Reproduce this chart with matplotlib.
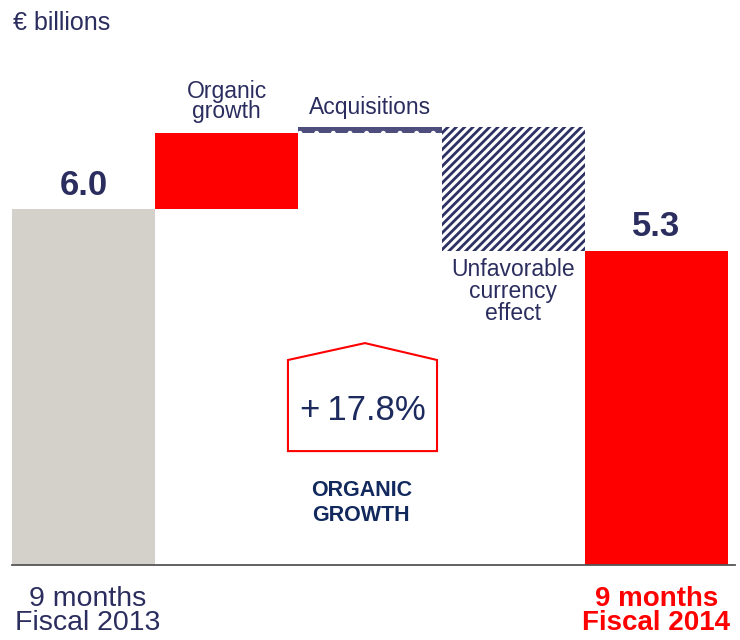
import matplotlib
matplotlib.use("Agg")
import matplotlib.pyplot as plt
from matplotlib.patches import Polygon

plt.rcParams['font.family'] = ['Liberation Sans', 'DejaVu Sans']

# data (EUR billions)
steps = ["9 months\nFiscal 2013", "Organic\ngrowth", "Acquisitions",
         "Unfavorable\ncurrency\neffect", "9 months\nFiscal 2014"]
start_value = 6.0
deltas = [1.28, 0.10, -2.08]
end_value = 5.3
organic_pct = "+\u200917.8%"

navy = "#2b2d5e"
red = "#ff0000"

fig = plt.figure(figsize=(7.4, 6.4), dpi=100)
ax = fig.add_axes([12 / 740, 75 / 640, 716 / 740, 534 / 640])
ax.set_xlim(-0.5, 4.5)
ax.set_ylim(0, 9)
ax.axis("off")

# start bar
ax.bar(0, start_value, width=1.0, color="#d4d1ca")
# floating bars
level = start_value
bottoms = []
for d in deltas:
    bottoms.append(min(level, level + d))
    level += d
ax.bar(1, deltas[0], bottom=bottoms[0], width=1.0, color=red)
with plt.rc_context({"hatch.linewidth": 1.2}):
    ax.bar(2, deltas[1], bottom=bottoms[1], width=1.0, color="#4d4e7c",
           hatch=".", edgecolor="white", linewidth=0)
with plt.rc_context({"hatch.linewidth": 2.0}):
    ax.bar(3, abs(deltas[2]), bottom=bottoms[2], width=1.0, color="white",
           hatch="////", edgecolor="#2e3163", linewidth=0)
# end bar
ax.bar(4, end_value, width=1.0, color=red)

ax.plot([-0.5, 4.55], [0, 0], color="#555555", lw=1.3, clip_on=False)

# value labels
ax.text(0, start_value + 0.12, f"{start_value:.1f}", ha="center", va="bottom",
        fontsize=25, fontweight="bold", color=navy)
ax.text(4, end_value + 0.12, f"{end_value:.1f}", ha="center", va="bottom",
        fontsize=25, fontweight="bold", color=navy)

# step labels
ax.text(1, 7.45, steps[1], ha="center", va="bottom", fontsize=16.5, color=navy,
        linespacing=0.85)
ax.text(2, 7.52, steps[2], ha="center", va="bottom", fontsize=16.5, color=navy)
ax.text(3.0, 5.17, steps[3], ha="center", va="top", fontsize=16.5, color=navy,
        linespacing=0.93)

# x labels
ax.text(0.03, -0.35, steps[0], ha="center", va="top", fontsize=20.5, color=navy,
        linespacing=0.9, clip_on=False)
ax.text(4.0, -0.35, steps[4], ha="center", va="top", fontsize=20, color=red,
        fontweight="bold", linespacing=0.9, clip_on=False)

fig.text(13 / 740, 1 - 23 / 640, "\u20ac billions", ha="left", va="center",
         fontsize=18, color=navy)

# organic growth callout
pent = Polygon([(1.427, 1.92), (1.427, 3.455), (1.965, 3.74), (2.468, 3.455),
                (2.468, 1.92)], closed=True, fill=False, edgecolor=red, lw=1.5)
ax.add_patch(pent)
ax.text(1.95, 2.61, organic_pct, ha="center", va="center", fontsize=25,
        color="#1c2a5e")
ax.text(1.94, 1.04, "ORGANIC\nGROWTH", ha="center", va="center", fontsize=15.5,
        fontweight="bold", color="#12295e", linespacing=1.25)

fig.savefig("out.png", dpi=100)
